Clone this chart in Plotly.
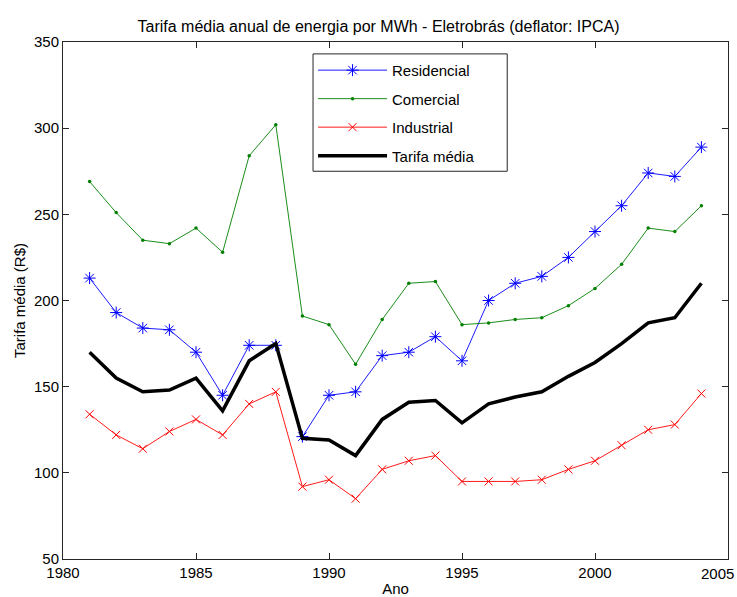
import plotly.graph_objects as go

anos = list(range(1981, 2005))
residencial = [213, 193, 184, 183, 170, 145, 174, 174, 121, 145, 147, 168, 170, 179, 165, 200, 210, 214, 225, 240, 255, 274, 272, 289]
comercial = [269, 251, 235, 233, 242, 228, 284, 302, 191, 186, 163, 189, 210, 211, 186, 187, 189, 190, 197, 207, 221, 242, 240, 255]
industrial = [134, 122, 114, 124, 131, 122, 140, 147, 92, 96, 85, 102, 107, 110, 95, 95, 95, 96, 102, 107, 116, 125, 128, 146]
tarifa_media = [170, 155, 147, 148, 155, 136, 165, 175, 120, 119, 110, 131, 141, 142, 129, 140, 144, 147, 156, 164, 175, 187, 190, 210]

x_ticks = [1980, 1985, 1990, 1995, 2000, 2005]
x_labels = ["1980", "1985", "1990", "1995", "2000", ""]
last_x_label = "2005"
y_ticks = [50, 100, 150, 200, 250, 300, 350]

FONT = "Liberation Sans, Arial, sans-serif"

fig = go.Figure()
fig.add_trace(go.Scatter(x=anos, y=residencial, name="Residencial", mode="lines+markers",
                         line=dict(color="#0000ff", width=0.9),
                         marker=dict(symbol="asterisk-open", size=10, color="#0000ff", line=dict(width=1, color="#0000ff")),
                         legendgroup="a"))
fig.add_trace(go.Scatter(x=anos, y=comercial, name="Comercial", mode="lines+markers",
                         line=dict(color="#008000", width=0.9),
                         marker=dict(symbol="circle", size=3.5, color="#008000"),
                         legendgroup="b"))
fig.add_trace(go.Scatter(x=anos, y=industrial, name="Industrial", mode="lines+markers",
                         line=dict(color="#ff0000", width=0.9),
                         marker=dict(symbol="x-thin-open", size=8, color="#ff0000", line=dict(width=1, color="#ff0000")),
                         legendgroup="c"))
fig.add_trace(go.Scatter(x=anos, y=tarifa_media, name="Tarifa média", mode="lines",
                         line=dict(color="#000000", width=3.5),
                         legendgroup="d"))

axis_common = dict(showgrid=False, zeroline=False, showline=True, linecolor="#262626", linewidth=1,
                   mirror="ticks", ticks="inside", ticklen=6, tickcolor="#262626",
                   automargin=False, ticklabeloverflow="allow",
                   tickfont=dict(family=FONT, size=15, color="#000000"))

fig.update_layout(
    width=737, height=597,
    margin=dict(l=63, r=9, t=42, b=38),
    paper_bgcolor="white", plot_bgcolor="white",
    font=dict(family=FONT, size=15, color="#000000"),
    title=dict(text="Tarifa média anual de energia por MWh - Eletrobrás (deflator: IPCA)",
               x=0.5136, xanchor="center", y=0.956, yanchor="middle", automargin=False,
               font=dict(family=FONT, size=16, color="#000000")),
    xaxis=dict(range=[1980, 2005], tickvals=x_ticks, ticktext=x_labels,
               title=dict(text="Ano", font=dict(family=FONT, size=15), standoff=4), **axis_common),
    yaxis=dict(range=[50, 350], tickvals=y_ticks,
               title=dict(text="Tarifa média (R$)", font=dict(family=FONT, size=15), standoff=4), **axis_common),
    legend=dict(x=0.376, y=0.977, xanchor="left", yanchor="top",
                borderwidth=0, bgcolor="rgba(0,0,0,0)",
                font=dict(family=FONT, size=15), traceorder="grouped", tracegroupgap=6,
                itemwidth=69),
    showlegend=True,
)

# legend frame (wider than plotly's own box, as in the reference)
fig.add_shape(type="rect", xref="paper", yref="paper", x0=0.376, x1=0.668, y0=0.750, y1=0.977,
              line=dict(color="#262626", width=1), fillcolor="white", layer="below")

# last x tick label, kept inside the picture as in the reference
fig.add_annotation(text=last_x_label, xref="paper", yref="paper", x=1.0125, y=0,
                   xanchor="right", yanchor="top", yshift=-4, showarrow=False,
                   font=dict(family=FONT, size=15, color="#000000"))

fig.write_html("out.html", config={"displayModeBar": False},
               post_script="document.body.style.margin='0';document.body.style.overflow='hidden';")
